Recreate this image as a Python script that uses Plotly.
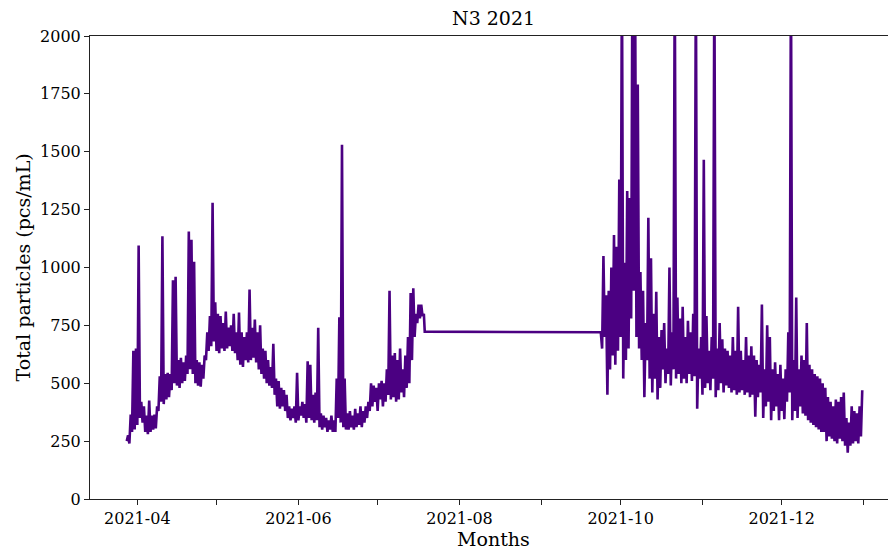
import pandas as pd
import plotly.graph_objects as go

# Segment 1: daily (low, high) pairs from 2021-03-28, 12-hour samples
seg1_low = [250, 240, 290, 300, 320, 350, 330, 290, 280, 290, 300, 305, 380, 420, 410, 430, 440, 470,
            500, 490, 480, 500, 510, 540, 560, 540, 500, 490, 485, 520, 600, 640, 660, 680, 640, 630,
            650, 640, 650, 660, 640, 630, 600, 580, 570, 600, 590, 600, 610, 590, 560, 540, 520, 500,
            490, 480, 450, 400, 390, 400, 380, 350, 340, 350, 330, 340, 360, 350, 330, 350, 340, 330,
            340, 310, 300, 310, 290, 300, 290, 290, 350, 330, 310, 300, 300, 310, 300, 310, 320, 310,
            330, 350, 380, 400, 420, 380, 430, 400, 420, 450, 430, 440, 420, 430, 460, 440, 480, 500,
            600, 700, 760, 780, 790]
seg1_high = [275, 365, 640, 650, 1095, 420, 400, 360, 425, 360, 365, 400, 530, 1135, 540, 545, 540, 945,
             960, 600, 610, 590, 620, 1155, 1120, 1025, 600, 590, 580, 620, 720, 790, 1280, 850, 800, 790,
             760, 810, 740, 750, 800, 720, 805, 720, 700, 720, 905, 740, 775, 720, 750, 650, 640, 600,
             570, 670, 520, 510, 480, 470, 450, 400, 390, 400, 545, 400, 420, 410, 595, 580, 450, 460,
             740, 370, 360, 350, 340, 360, 340, 520, 785, 1530, 520, 370, 380, 360, 390, 370, 400, 380,
             400, 420, 500, 490, 480, 500, 510, 500, 560, 900, 620, 630, 600, 650, 560, 620, 700, 890,
             910, 800, 840, 840, 800]

# Gap (flat line) between the two measuring periods
gap_dates = ["2021-07-18 20:00", "2021-09-23 12:00"]
gap_values = [723, 720]

# Segment 2: daily (low, high) pairs from 2021-09-24
seg2_low = [650, 700, 450, 560, 620, 580, 640, 700, 520, 600, 650, 780, 900, 700, 650, 600, 440, 600,
            520, 460, 520, 430, 480, 560, 500, 540, 490, 560, 520, 540, 500, 520, 500, 540, 510, 530,
            390, 520, 450, 480, 500, 470, 520, 440, 470, 500, 460, 490, 480, 460, 470, 450, 460, 470,
            450, 460, 440, 450, 355, 440, 460, 350, 400, 420, 340, 380, 400, 340, 380, 345, 420, 460,
            340, 380, 350, 400, 370, 360, 340, 330, 320, 310, 300, 290, 290, 250, 270, 260, 250, 240,
            260, 250, 230, 200, 230, 240, 250, 240, 270]
seg2_high = [1050, 880, 900, 1000, 1140, 1090, 1380, 2300, 1020, 1330, 1300, 2400, 2200, 1790, 980, 900,
             760, 1215, 1040, 800, 895, 700, 730, 760, 650, 1000, 720, 2300, 870, 780, 830, 700, 770,
             720, 800, 2300, 650, 700, 1465, 790, 640, 700, 2300, 650, 760, 690, 650, 640, 620, 700,
             640, 830, 640, 600, 700, 620, 660, 620, 600, 580, 840, 560, 750, 700, 560, 590, 540, 580,
             520, 560, 720, 2300, 600, 870, 560, 620, 600, 760, 580, 560, 540, 530, 520, 500, 480, 440,
             420, 400, 430, 420, 440, 460, 350, 330, 400, 380, 370, 400, 470]

x_tickvals = ["2021-04-01", "2021-05-01", "2021-06-01", "2021-07-01", "2021-08-01",
              "2021-09-01", "2021-10-01", "2021-11-01", "2021-12-01", "2022-01-01"]
x_ticktext = ["2021-04", "", "2021-06", "", "2021-08", "", "2021-10", "", "2021-12", ""]
y_tickvals = [0, 250, 500, 750, 1000, 1250, 1500, 1750, 2000]


def interleave(lo, hi):
    out = []
    for a, b in zip(lo, hi):
        out.extend([a, b])
    return out


s1 = interleave(seg1_low, seg1_high)
s2 = interleave(seg2_low, seg2_high)
d1 = pd.date_range("2021-03-28", periods=len(s1), freq="12h")
d2 = pd.date_range("2021-09-24", periods=len(s2), freq="12h")

dates = list(d1) + list(pd.to_datetime(gap_dates)) + list(d2)
values = s1 + gap_values + s2

FONT = "DejaVu Serif"

fig = go.Figure()
fig.add_trace(go.Scatter(x=dates, y=values, mode="lines",
                         line=dict(color="#4B0082", width=2.6), showlegend=False))

fig.update_layout(
    width=888, height=549,
    margin=dict(l=90, r=0, t=36, b=50),
    paper_bgcolor="white", plot_bgcolor="white",
    font=dict(family=FONT, size=16, color="black"),
    xaxis=dict(range=["2021-03-14 02:00", "2022-01-10 06:00"],
               tickvals=x_tickvals, ticktext=x_ticktext,
               showgrid=False, zeroline=False,
               showline=True, linecolor="#222", linewidth=1, mirror=True,
               ticks="outside", ticklen=5, tickcolor="#222",
               tickfont=dict(family=FONT, size=16)),
    yaxis=dict(range=[0, 2000], tickvals=y_tickvals,
               showgrid=False, zeroline=False,
               showline=True, linecolor="#222", linewidth=1,
               ticks="outside", ticklen=5, tickcolor="#222",
               tickfont=dict(family=FONT, size=16)),
    annotations=[
        dict(text="N3 2021", xref="paper", yref="paper", x=0.506, y=1, yshift=18,
             showarrow=False, font=dict(family=FONT, size=19), xanchor="center", yanchor="middle"),
        dict(text="Months", xref="paper", yref="paper", x=0.506, y=0, yshift=-40,
             showarrow=False, font=dict(family=FONT, size=19), xanchor="center", yanchor="middle"),
        dict(text="Total particles (pcs/mL)", xref="paper", yref="paper", x=0, xshift=-68, y=0.5,
             textangle=-90, showarrow=False, font=dict(family=FONT, size=19),
             xanchor="center", yanchor="middle"),
    ],
)

fig.write_html("out.html")
